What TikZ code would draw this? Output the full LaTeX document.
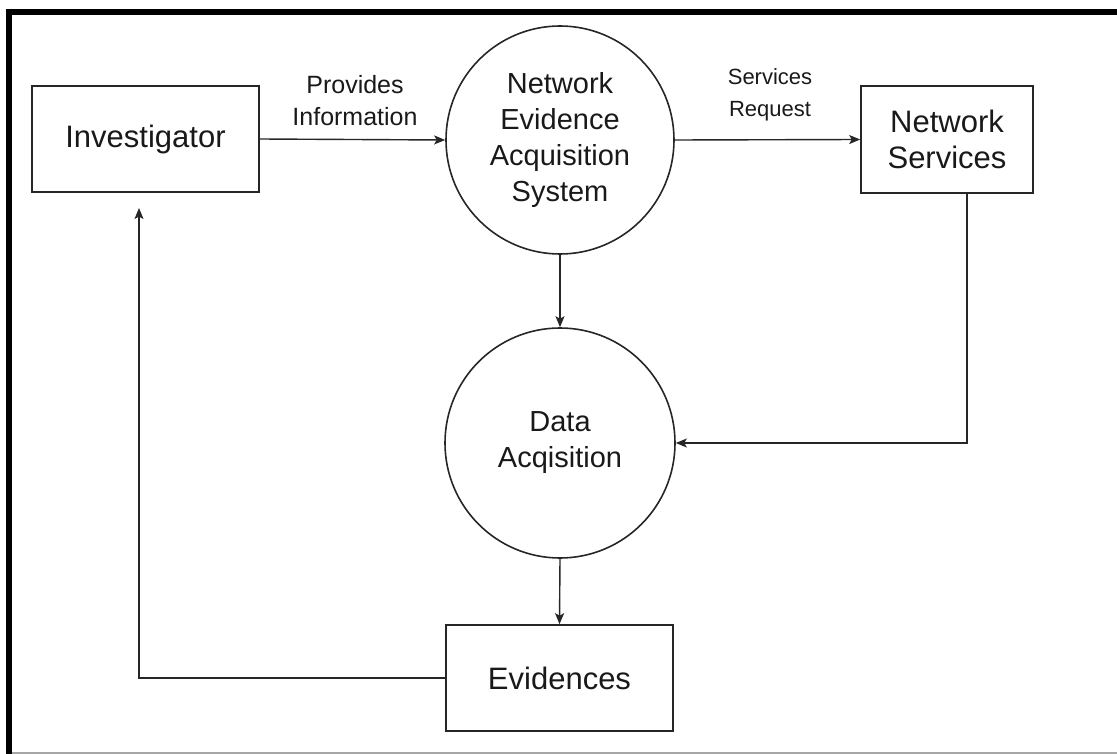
\documentclass[tikz,border=0pt]{standalone}
\usepackage{fontspec}
\setmainfont{Liberation Sans}
\usetikzlibrary{arrows.meta}
\begin{document}
\begin{tikzpicture}[x=1pt,y=-1pt,
  line/.style={draw=black!85, line width=1.4pt},
  arr/.style={line, -{Stealth[length=11pt,width=9pt,inset=2.5pt]}},
  boxnode/.style={draw=black!85, line width=1.6pt, rectangle, inner sep=0pt,
    text=black!90, align=center, font=\fontsize{31}{36}\selectfont},
  circnode/.style={draw=black!85, line width=1.6pt, circle, inner sep=0pt,
    minimum size=228pt, text=black!90, align=center, font=\fontsize{29}{36}\selectfont},
  lbl/.style={inner sep=0pt, text=black!90, align=center, font=\fontsize{25}{32}\selectfont}]
\useasboundingbox (0,0) rectangle (1117,754);
% frame
\fill[black] (6,9) rectangle (12,754);
\fill[black] (6,9) rectangle (1117,15);
\draw[black!35, line width=1.5pt] (12,753) -- (1117,753);
% nodes
\node[boxnode, minimum width=227pt, minimum height=106pt] (inv) at (145.5,139) {Investigator};
\node[circnode] (neas) at (560,140) {Network\\Evidence\\Acquisition\\System};
\node[boxnode, minimum width=172pt, minimum height=107pt] (ns) at (947,139.5) {Network\\Services};
\node[circnode, minimum size=230pt] (da) at (560,443) {Data\\Acqisition};
\node[boxnode, minimum width=227pt, minimum height=106pt] (ev) at (559.5,678) {Evidences};
% labels
\node[lbl] (l1) at (355,101) {Provides\\Information};
\node[lbl, font=\fontsize{22}{32}\selectfont] (l2) at (770,95) {Services\\Request};
% connectors
\coordinate (nsout) at ([xshift=20pt]ns.south);
\coordinate (invin) at (139,208);
\draw[arr] (inv.east) -- (neas.west);
\draw[arr] (neas.east) -- (ns.west);
\draw[arr] (neas.south) -- (da.north);
\draw[arr] (nsout) |- (da.east);
\draw[arr] (da.south) -- (ev.north);
\draw[arr] (ev.west) -| (invin);
\end{tikzpicture}
\end{document}
